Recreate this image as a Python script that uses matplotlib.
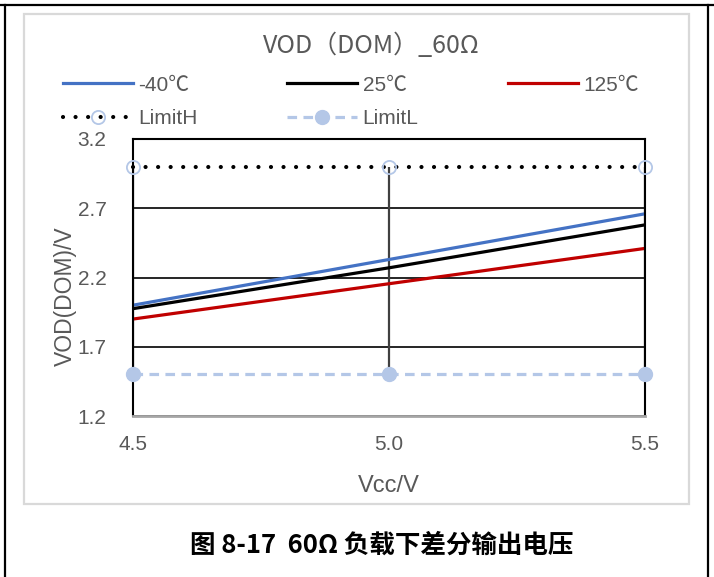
import matplotlib.pyplot as plt
from matplotlib.patches import Rectangle
from matplotlib.lines import Line2D

# data
vcc = [4.5, 5.0, 5.5]
vod_m40 = [2.00, 2.33, 2.66]
vod_25 = [1.975, 2.27, 2.58]
vod_125 = [1.90, 2.155, 2.41]
limit_h = [3.0, 3.0, 3.0]
limit_l = [1.5, 1.5, 1.5]
labels = ['-40℃', '25℃', '125℃', 'LimitH', 'LimitL']

plt.rcParams['font.family'] = ['Liberation Sans', 'Noto Sans CJK SC', 'DejaVu Sans']
gray = '#595959'
light_blue = '#B4C7E7'

fig = plt.figure(figsize=(7.14, 5.77), dpi=100)
ax = fig.add_axes([133/714, 1-416/577, (645-133)/714, (416-139)/577])

# high-low lines between the limits
ax.vlines(vcc, limit_l, limit_h, color='#404040', lw=1.6, zorder=1)

l1, = ax.plot(vcc, vod_m40, color='#4472C4', lw=2.3)
l2, = ax.plot(vcc, vod_25, color='black', lw=2.3)
l3, = ax.plot(vcc, vod_125, color='#C00000', lw=2.3)
l4, = ax.plot(vcc, limit_h, color='black', lw=3, linestyle=(0, (0.01, 3.0)),
              dash_capstyle='round', marker='o', ms=9.5, mfc='none',
              mec=light_blue, mew=1.3, clip_on=False, zorder=4)
l5, = ax.plot(vcc, limit_l, color=light_blue, lw=2.3, linestyle=(0, (3, 2)),
              marker='o', ms=10, mfc=light_blue, mec=light_blue,
              clip_on=False, zorder=4)

ax.set_xlim(4.5, 5.5)
ax.set_ylim(1.2, 3.2)
ax.set_xticks([4.5, 5.0, 5.5])
ax.set_xticklabels(['4.5', '5.0', '5.5'])
ax.set_yticks([1.2, 1.7, 2.2, 2.7, 3.2])
ax.tick_params(length=0, labelsize=15, labelcolor=gray)
ax.tick_params(axis='x', pad=14)
ax.tick_params(axis='y', pad=19)
ax.yaxis.grid(True, color='black', lw=1.2)
ax.set_axisbelow(True)
for s in ['top', 'right', 'left']:
    ax.spines[s].set_color('black')
    ax.spines[s].set_linewidth(1.5)
ax.spines['bottom'].set_color('#A6A6A6')
ax.spines['bottom'].set_linewidth(2)

ax.set_xlabel('Vcc/V', fontsize=17, color=gray, labelpad=15)
ax.set_ylabel('VOD(DOM)/V', fontsize=16.5, color=gray)
ax.yaxis.set_label_coords(-0.11, 0.433)

fig.text(0.52, 1-46/577, 'VOD（DOM）_60Ω', ha='center', va='center',
         fontsize=18, color=gray, family=['Noto Sans CJK SC', 'DejaVu Sans'])

fig.legend([l1, l4, l2, l5, l3], [labels[0], labels[3], labels[1], labels[4], labels[2]],
           ncol=3, loc='upper left', bbox_to_anchor=(44/714, 1-57/577),
           frameon=False, fontsize=15, labelcolor=gray, handlelength=3.37,
           handletextpad=0.25, columnspacing=4.3, labelspacing=0.68)

fig.text(382/714, 1-545/577, '图 8-17  60Ω 负载下差分输出电压', ha='center',
         va='center', fontsize=18.4, fontweight='bold',
         family=['Noto Sans CJK SC', 'DejaVu Sans'])

# chart frame and page border
fig.patches.append(Rectangle((24/714, 1-504/577), 665/714, 490/577,
                             transform=fig.transFigure, fill=False,
                             ec='#D9D9D9', lw=1.6))
fig.lines.append(Line2D([0, 1], [1-5/577, 1-5/577], transform=fig.transFigure,
                        color='black', lw=1.6))
fig.lines.append(Line2D([5/714, 5/714], [0, 1-5/577], transform=fig.transFigure,
                        color='black', lw=1.6))
fig.lines.append(Line2D([708/714, 708/714], [0, 1-5/577], transform=fig.transFigure,
                        color='black', lw=1.6))

fig.savefig('out.png', dpi=100)
